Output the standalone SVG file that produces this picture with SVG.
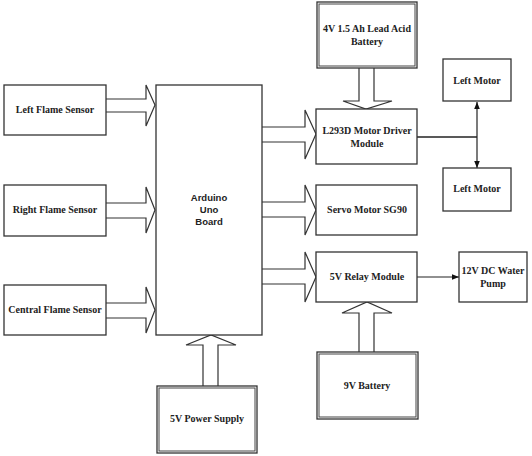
<svg xmlns="http://www.w3.org/2000/svg" width="532" height="456" viewBox="0 0 532 456">
<defs>
<style>
.box{fill:#fff;stroke:#333;stroke-width:1.3}
.dbl{fill:none;stroke:#444;stroke-width:1}
.ba{fill:#fff;stroke:#333;stroke-width:1.2;stroke-linejoin:miter}
.t{font-family:"Liberation Serif",serif;font-weight:bold;font-size:10px;fill:#222;text-anchor:middle}
.s{font-family:"Liberation Sans",sans-serif;font-weight:bold;font-size:9.5px;fill:#222;text-anchor:middle}
.ln{stroke:#222;stroke-width:1.5;fill:none}
</style>
<marker id="ah" viewBox="0 0 10 10" refX="10" refY="5" markerWidth="7" markerHeight="7" orient="auto-start-reverse" markerUnits="userSpaceOnUse">
<path d="M0,1 L10,5 L0,9 Z" fill="#111"/>
</marker>
</defs>
<rect width="532" height="456" fill="#fff"/>

<g id="connectors">
<path class="ba" d="M106,99 H146 V85 L155,105 L146,126 V112 H106"/>
<path class="ba" d="M106,203 H146 V187 L155,210 L146,233 V218 H106"/>
<path class="ba" d="M106,303 H146 V287 L155,310 L146,333 V318 H106"/>
<path class="ba" d="M262,127 H305 V110 L316,134 L305,159 V142 H262"/>
<path class="ba" d="M262,202 H305 V185 L316,210 L305,235 V217 H262"/>
<path class="ba" d="M262,269 H305 V252 L316,277 L305,302 V284 H262"/>
<path class="ba" d="M359,68 V101 H343 L366,109 L392,101 H374 V68"/>
<path class="ba" d="M359,352 V313 H342 L367,302 L392,313 H374 V352"/>
<path class="ba" d="M203,386 V345 H186 L211,335 L236,345 H218 V386"/>
<path class="ln" d="M417,137 H477"/>
<line x1="477" y1="137" x2="477" y2="102" stroke="#222" stroke-width="1.2" marker-end="url(#ah)"/>
<line x1="477" y1="137" x2="477" y2="168" stroke="#222" stroke-width="1.2" marker-end="url(#ah)"/>
<line x1="417" y1="277" x2="459" y2="277" stroke="#222" stroke-width="1.2" marker-end="url(#ah)"/>
</g>

<g id="left-flame">
<rect class="box" x="4" y="85" width="102" height="50"/>
<text class="t" x="55" y="113">Left Flame Sensor</text>
</g>
<g id="right-flame">
<rect class="box" x="4" y="185" width="102" height="51"/>
<text class="t" x="55" y="213">Right Flame Sensor</text>
</g>
<g id="central-flame">
<rect class="box" x="4" y="285" width="102" height="50"/>
<text class="t" x="55" y="313">Central Flame Sensor</text>
</g>
<g id="arduino">
<rect class="box" x="156" y="85" width="106" height="250"/>
<text class="s" x="209" y="201">Arduino</text>
<text class="s" x="209" y="213">Uno</text>
<text class="s" x="209" y="225">Board</text>
</g>
<g id="battery4v">
<rect class="box" x="317" y="2" width="100" height="66"/>
<rect class="dbl" x="319" y="4" width="96" height="62"/>
<text class="t" x="367" y="32">4V 1.5 Ah Lead Acid</text>
<text class="t" x="367" y="45">Battery</text>
</g>
<g id="l293d">
<rect class="box" x="316" y="109" width="101" height="55"/>
<text class="t" x="367" y="134">L293D Motor Driver</text>
<text class="t" x="367" y="147">Module</text>
</g>
<g id="left-motor-1">
<rect class="box" x="443" y="59" width="68" height="42"/>
<text class="t" x="477" y="84">Left Motor</text>
</g>
<g id="left-motor-2">
<rect class="box" x="443" y="168" width="68" height="43"/>
<text class="t" x="477" y="192">Left Motor</text>
</g>
<g id="servo">
<rect class="box" x="316" y="185" width="101" height="50"/>
<text class="t" x="367" y="213">Servo Motor SG90</text>
</g>
<g id="relay">
<rect class="box" x="316" y="252" width="101" height="50"/>
<text class="t" x="367" y="280">5V Relay Module</text>
</g>
<g id="pump">
<rect class="box" x="459" y="252" width="68" height="50"/>
<text class="t" x="493" y="274">12V DC Water</text>
<text class="t" x="493" y="287">Pump</text>
</g>
<g id="battery9v">
<rect class="box" x="317" y="352" width="101" height="67"/>
<rect class="dbl" x="319" y="354" width="97" height="63"/>
<text class="t" x="367" y="389">9V Battery</text>
</g>
<g id="power5v">
<rect class="box" x="157" y="386" width="100" height="67"/>
<rect class="dbl" x="159" y="388" width="96" height="63"/>
<text class="t" x="207" y="422">5V Power Supply</text>
</g>
</svg>
